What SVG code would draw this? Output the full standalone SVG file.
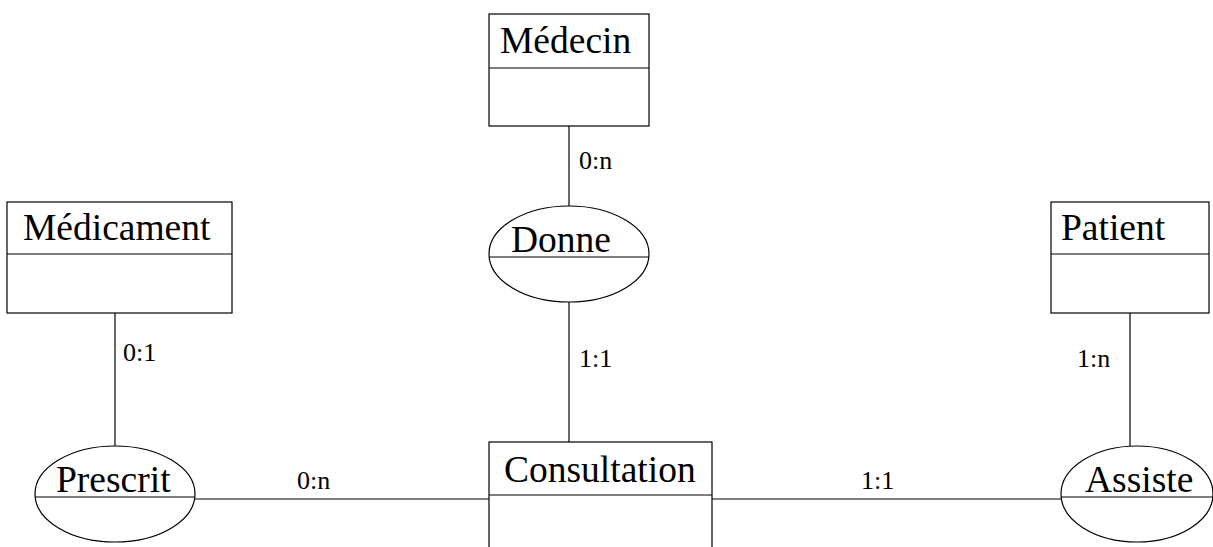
<svg xmlns="http://www.w3.org/2000/svg" width="1213" height="547" viewBox="0 0 1213 547">
<style>
.box{fill:#fff;stroke:#000;stroke-width:1.2}
.ln{stroke:#000;stroke-width:1.2;fill:none}
.t{font-family:"Liberation Serif",serif;font-size:37.5px;fill:#000}
.c{font-family:"Liberation Serif",serif;font-size:26px;fill:#000}
</style>
<rect width="1213" height="547" fill="#fff"/>
<g id="connectors">
<line class="ln" x1="569" y1="126" x2="569" y2="206"/>
<line class="ln" x1="569" y1="302" x2="569" y2="442"/>
<line class="ln" x1="115" y1="313" x2="115" y2="446"/>
<line class="ln" x1="1130" y1="313" x2="1130" y2="446"/>
<line class="ln" x1="195" y1="499" x2="489" y2="499"/>
<line class="ln" x1="712" y1="499" x2="1061" y2="499"/>
<text class="c" x="579" y="169">0:n</text>
<text class="c" x="579" y="367">1:1</text>
<text class="c" x="123" y="361">0:1</text>
<text class="c" x="1077" y="367">1:n</text>
<text class="c" x="297" y="489">0:n</text>
<text class="c" x="861" y="489">1:1</text>
</g>
<g id="medecin">
<rect class="box" x="489" y="14" width="160" height="112"/>
<line class="ln" x1="489" y1="68" x2="649" y2="68"/>
<text class="t" x="500" y="53">Médecin</text>
</g>
<g id="medicament">
<rect class="box" x="7" y="202" width="225" height="111"/>
<line class="ln" x1="7" y1="254" x2="232" y2="254"/>
<text class="t" x="23" y="240">Médicament</text>
</g>
<g id="patient">
<rect class="box" x="1051" y="202" width="158" height="111"/>
<line class="ln" x1="1051" y1="254" x2="1209" y2="254"/>
<text class="t" x="1061" y="240">Patient</text>
</g>
<g id="consultation">
<rect class="box" x="489" y="442" width="223" height="120"/>
<line class="ln" x1="489" y1="495" x2="712" y2="495"/>
<text class="t" x="504" y="482">Consultation</text>
</g>
<g id="donne">
<ellipse class="box" cx="569" cy="254" rx="80" ry="48"/>
<line class="ln" x1="489" y1="257" x2="649" y2="257"/>
<text class="t" x="511" y="252">Donne</text>
</g>
<g id="prescrit">
<ellipse class="box" cx="115" cy="494" rx="80" ry="48"/>
<line class="ln" x1="35" y1="497" x2="195" y2="497"/>
<text class="t" x="56" y="492">Prescrit</text>
</g>
<g id="assiste">
<ellipse class="box" cx="1137" cy="494" rx="76" ry="48"/>
<line class="ln" x1="1061" y1="497" x2="1213" y2="497"/>
<text class="t" x="1085" y="492">Assiste</text>
</g>
</svg>
